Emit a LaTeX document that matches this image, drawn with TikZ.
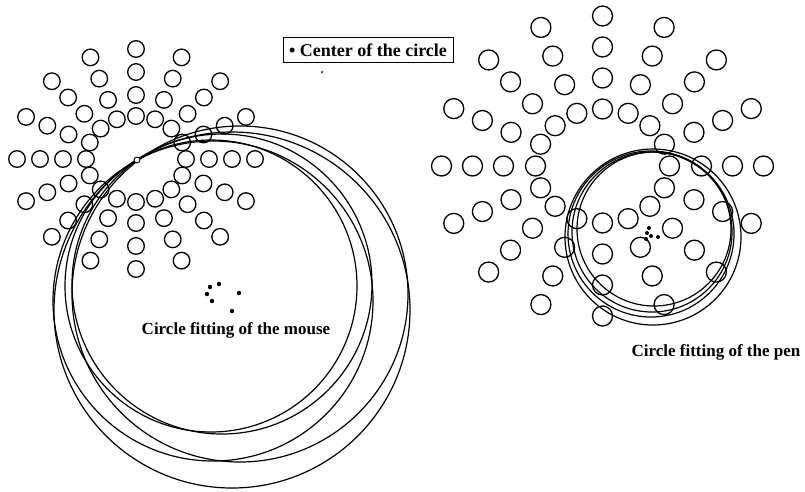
\documentclass[tikz,border=0pt]{standalone}
\usepackage{fontspec}
\setmainfont{Liberation Serif}
\usetikzlibrary{positioning}

\tikzset{
  dotring/.style={line width=1.3pt},
  fitline/.style={line width=1.2pt},
  caption/.style={font=\fontsize{17}{20}\selectfont\bfseries, inner sep=0pt}
}

\begin{document}
\begin{tikzpicture}[x=1pt,y=-1pt]
\useasboundingbox (0,0) rectangle (805,491);

% left pattern (mouse)
\foreach \rx/\ry in {50/43,73/64,96/87,119/110} {
    \foreach \a in {0,22.5,...,337.5} {
        \draw[dotring] ({136+\rx*cos(\a)},{159+\ry*sin(\a)}) circle[radius=8.3]; % ring
    }
}
% right pattern (pen)
\foreach \rx/\ry in {67/57,99/88,130/119,161/150} {
    \foreach \a in {0,22.5,...,337.5} {
        \draw[dotring] ({602.5+\rx*cos(\a)},{166+\ry*sin(\a)}) circle[radius=10]; % ring
    }
}

% fitted circles of the mouse
\foreach \cx/\cy/\r in {232/310/178,240/294/168,213/301/160,222/284/150,211/286/146} {
    \draw[fitline] (\cx,\cy) circle[radius=\r];
}
\draw[line width=0.9pt, fill=white] (137,160) circle[radius=3]; % start point

% fitted circles of the pen
\foreach \cx/\cy/\r in {653/237/88,651/234/83,652/232/80,654/229/77} {
    \draw[fitline] (\cx,\cy) circle[radius=\r];
}

% centers
\foreach \x/\y in {210/287,219/284,207/294,212/301,239/293,232/311} {
    \fill (\x,\y) circle[radius=2.2]; % mouse
}
\foreach \x/\y in {649/228,647/233,651/236,658/237,646/239} {
    \fill (\x,\y) circle[radius=2]; % pen
}

% labels
\node[caption] (mouse) at (236,330) {Circle fitting of the mouse};
\node[caption] (pen) at (716,352) {Circle fitting of the pen};
\node[caption, font=\fontsize{18}{20}\selectfont\bfseries, draw, line width=0.8pt,
      minimum width=170pt, minimum height=25pt] (legend) at (368,50) {\textbullet\ Center of the circle};
\fill (322,72) circle[radius=1]; % speck
\end{tikzpicture}
\end{document}
